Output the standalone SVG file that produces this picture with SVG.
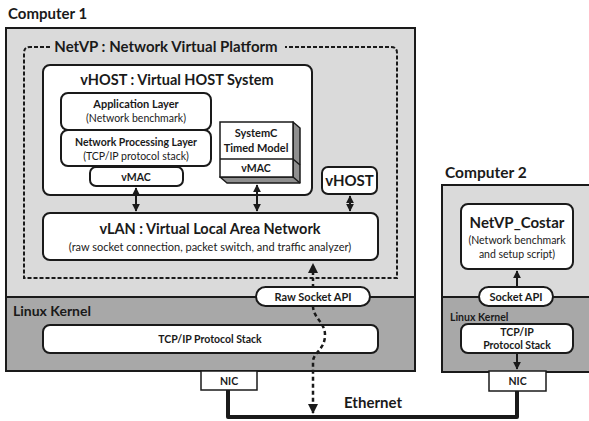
<svg xmlns="http://www.w3.org/2000/svg" width="589" height="421" viewBox="0 0 589 421">
<style>
text{font-family:Lato,"Liberation Sans",sans-serif;fill:#1a1a1a;text-anchor:middle}
.b{font-weight:bold}
.box{fill:#fff;stroke:#1a1a1a;stroke-width:2}
.light{fill:#dadada}
.dark{fill:#a8a8a8}
.frame{fill:none;stroke:#1a1a1a;stroke-width:2}
.ln{stroke:#1a1a1a;stroke-width:2;fill:none}
</style>
<defs>
<marker id="ah" viewBox="0 0 10 10" refX="9" refY="5" markerWidth="4" markerHeight="4" orient="auto-start-reverse">
<path d="M0,0 L10,5 L0,10 z" fill="#1a1a1a"/>
</marker>
</defs>

<g id="computer1">
<text class="b" x="8" y="19" font-size="15" style="text-anchor:start">Computer 1</text>
<rect class="light" x="6" y="28" width="409" height="269"/>
<rect class="dark" x="6" y="297" width="409" height="74"/>
<rect class="frame" x="6" y="28" width="409" height="343"/>
<line class="ln" x1="6" y1="297" x2="256" y2="297"/>
<line class="ln" x1="370" y1="297" x2="415" y2="297"/>
<text class="b" x="13" y="316" font-size="14" style="text-anchor:start">Linux Kernel</text>
</g>

<g id="netvp">
<path d="M50,47 H30 Q24,47 24,53 V278 H397 V53 Q397,47 391,47 H285" fill="none" stroke="#1a1a1a" stroke-width="2" stroke-dasharray="4,2"/>
<text class="b" x="166" y="52" font-size="15">NetVP :  Network Virtual Platform</text>
</g>

<g id="vhost-system">
<rect class="box" x="43" y="65" width="269" height="130" rx="7"/>
<text class="b" x="177" y="85" font-size="14.5">vHOST : Virtual HOST System</text>
</g>

<g id="app-layer">
<rect class="box" x="61" y="93" width="150" height="37" rx="7"/>
<text class="b" x="136" y="108" font-size="11">Application Layer</text>
<text x="136" y="122" font-size="10.5">(Network benchmark)</text>
</g>

<g id="net-layer">
<rect class="box" x="61" y="130" width="150" height="36" rx="7"/>
<text class="b" x="136" y="146" font-size="10.5">Network Processing Layer</text>
<text x="136" y="160" font-size="10.5">(TCP/IP protocol stack)</text>
</g>

<g id="vmac1">
<rect class="box" x="90" y="167" width="93" height="19" rx="6"/>
<text class="b" x="136" y="180.5" font-size="10.5">vMAC</text>
</g>

<g id="systemc">
<path d="M293,122 L300,128 V183 H227 L220,177 H293 Z" fill="#8f8f8f" stroke="#1a1a1a" stroke-width="1.5" stroke-linejoin="round"/>
<line x1="293" y1="177" x2="300" y2="183" stroke="#1a1a1a" stroke-width="1.5"/>
<line x1="293" y1="159" x2="300" y2="165" stroke="#1a1a1a" stroke-width="1.5"/>
<rect x="220" y="122" width="73" height="55" fill="#fff" stroke="#1a1a1a" stroke-width="1.5"/>
<line x1="220" y1="159" x2="293" y2="159" stroke="#1a1a1a" stroke-width="1.5"/>
<text class="b" x="256" y="137" font-size="11">SystemC</text>
<text class="b" x="256" y="152" font-size="11">Timed Model</text>
<text class="b" x="256" y="172" font-size="10.5">vMAC</text>
</g>

<g id="vhost-small">
<rect class="box" x="322" y="167" width="55" height="27" rx="6"/>
<text class="b" x="349.5" y="186" font-size="15">vHOST</text>
</g>

<g id="vlan">
<rect class="box" x="43" y="213" width="335" height="47" rx="7"/>
<text class="b" x="210" y="234" font-size="14.5">vLAN : Virtual Local Area Network</text>
<text x="210" y="251" font-size="11">(raw socket connection, packet switch, and traffic analyzer)</text>
</g>

<g id="raw-socket">
<rect class="box" x="256" y="287" width="114" height="19" rx="9.5"/>
<text class="b" x="313" y="301" font-size="11">Raw Socket API</text>
</g>

<g id="tcpip1">
<rect class="box" x="43" y="325" width="335" height="28" rx="7"/>
<text class="b" x="210" y="343" font-size="10.5">TCP/IP Protocol Stack</text>
</g>

<g id="nic1">
<rect x="201" y="371" width="56" height="19" fill="#fff" stroke="#1a1a1a" stroke-width="1.5"/>
<text class="b" x="229" y="385" font-size="10.5">NIC</text>
</g>

<g id="computer2">
<text class="b" x="445" y="178" font-size="15.5" style="text-anchor:start">Computer 2</text>
<rect class="light" x="442" y="185" width="148" height="112"/>
<rect class="dark" x="442" y="297" width="148" height="75"/>
<rect class="frame" x="442" y="185" width="150" height="187"/>
<line class="ln" x1="442" y1="297" x2="479" y2="297"/>
<line class="ln" x1="553" y1="297" x2="590" y2="297"/>
<text class="b" x="450" y="321" font-size="10.5" style="text-anchor:start">Linux Kernel</text>
</g>

<g id="costar">
<rect class="box" x="461" y="204" width="112" height="65" rx="7"/>
<text class="b" x="517" y="228" font-size="15">NetVP_Costar</text>
<text x="517" y="244" font-size="10.5">(Network benchmark</text>
<text x="517" y="258" font-size="10.5">and setup script)</text>
</g>

<g id="socket-api">
<rect class="box" x="479" y="287" width="74" height="19" rx="9.5"/>
<text class="b" x="516" y="301" font-size="11">Socket API</text>
</g>

<g id="tcpip2">
<rect class="box" x="461" y="324" width="112" height="29" rx="7"/>
<text class="b" x="517" y="336" font-size="10.5">TCP/IP</text>
<text class="b" x="517" y="349" font-size="10.5">Protocol Stack</text>
</g>

<g id="nic2">
<rect x="489" y="371" width="57" height="20" fill="#fff" stroke="#1a1a1a" stroke-width="1.5"/>
<text class="b" x="517.5" y="385" font-size="10.5">NIC</text>
</g>

<g id="connectors">
<line class="ln" x1="136" y1="188" x2="136" y2="211" marker-start="url(#ah)" marker-end="url(#ah)"/>
<line class="ln" x1="257" y1="185" x2="257" y2="211" marker-start="url(#ah)" marker-end="url(#ah)"/>
<line class="ln" x1="350" y1="196" x2="350" y2="211" marker-start="url(#ah)" marker-end="url(#ah)"/>
<line class="ln" x1="517" y1="287" x2="517" y2="271" marker-end="url(#ah)"/>
<line class="ln" x1="517" y1="353" x2="517" y2="369" marker-end="url(#ah)"/>
<path d="M313,287 V264" fill="none" stroke="#1a1a1a" stroke-width="2.5" stroke-dasharray="3,3" marker-end="url(#ah)"/>
<path d="M313,306 C313,318 325,322 325,335 C325,350 313,352 313,362 V413" fill="none" stroke="#1a1a1a" stroke-width="2.5" stroke-dasharray="4,3" marker-end="url(#ah)"/>
<path d="M228,390 V417 H517 V391" fill="none" stroke="#1a1a1a" stroke-width="4" stroke-linejoin="round"/>
<text class="b" x="373" y="408" font-size="15">Ethernet</text>
</g>
</svg>
